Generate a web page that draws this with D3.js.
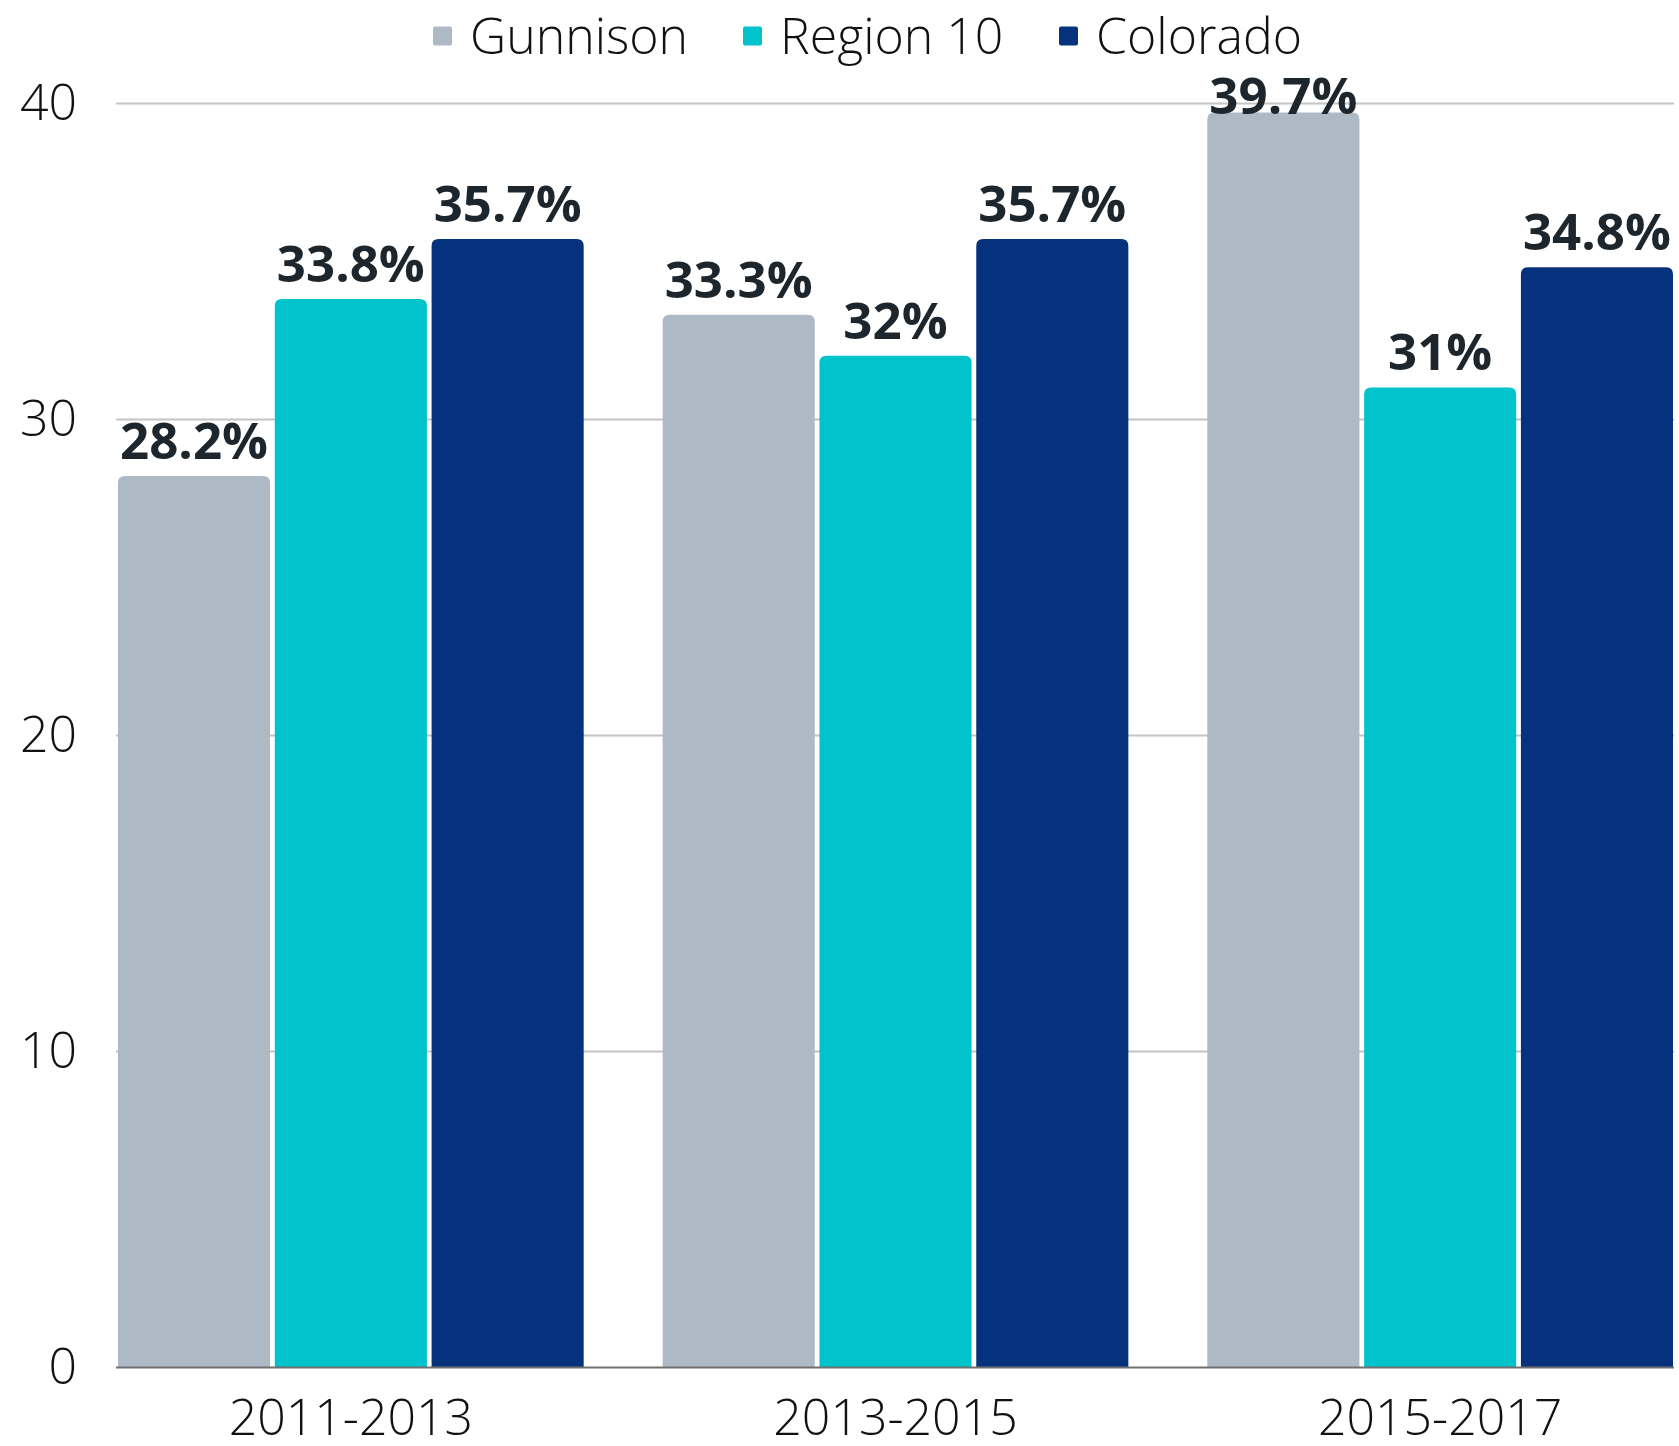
<!DOCTYPE html>
<html>
<head>
<meta charset="utf-8">
<script src="https://cdn.jsdelivr.net/npm/d3@7"></script>
<style>
    body { margin: 0; background: #fff; }
    text { font-family: "Open Sans", sans-serif; }
</style>
</head>
<body>
<svg id="chart"></svg>
<script>
// chart data
const periods = ["2011-2013", "2013-2015", "2015-2017"];
const seriesNames = ["Gunnison", "Region 10", "Colorado"];
const gunnison = [28.2, 33.3, 39.7];
const region10 = [33.8, 32, 31];
const colorado = [35.7, 35.7, 34.8];
const yTicks = [0, 10, 20, 30, 40];

const colors = ["#adb9c4", "#00c3cb", "#06327d"];
const allValues = [gunnison, region10, colorado];

let width = 1679;
let height = 1446;
let svg = d3.select("#chart")
    .attr("width", width)
    .attr("height", height);

let x0 = d3.scaleBand()
    .domain(periods)
    .range([118, 1673])
    .paddingInner(0.145)
    .paddingOuter(0);

let x1 = d3.scaleBand()
    .domain(seriesNames)
    .range([0, x0.bandwidth()])
    .paddingInner(0.03)
    .paddingOuter(0);

let y = d3.scaleLinear()
    .domain([0, 40])
    .range([1367, 103]);

// gridlines + y labels
let yAxis = svg.append("g")
    .attr("transform", "translate(116,0)")
    .call(d3.axisLeft(y).tickValues(yTicks).tickSize(-1558).tickPadding(39));
yAxis.select(".domain").remove();
yAxis.selectAll(".tick line")
    .attr("stroke", "#c4c4c4")
    .attr("stroke-width", 2)
    .filter(d => d === 0).remove();
yAxis.selectAll(".tick text")
    .style("font-size", "50px")
    .style("font-weight", 300)
    .attr("fill", "#111");

// rounded-top bar path
function barPath(x, yTop, w, yBase, r) {
    r = Math.min(r, w / 2, yBase - yTop);
    return "M" + x + "," + yBase +
        "V" + (yTop + r) +
        "Q" + x + "," + yTop + " " + (x + r) + "," + yTop +
        "H" + (x + w - r) +
        "Q" + (x + w) + "," + yTop + " " + (x + w) + "," + (yTop + r) +
        "V" + yBase + "Z";
}

let rows = [];
periods.forEach((p, i) => {
    seriesNames.forEach((s, j) => {
        rows.push({ period: p, series: s, value: allValues[j][i], color: colors[j] });
    });
});

let groups = svg.selectAll("g.bar").data(rows).enter().append("g").attr("class", "bar");

groups.append("path")
    .attr("d", d => barPath(x0(d.period) + x1(d.series), y(d.value), x1.bandwidth(), y(0), 7))
    .attr("fill", d => d.color);

// value labels, kept inside the plot at the top
groups.append("text")
    .text(d => d.value + "%")
    .attr("x", d => x0(d.period) + x1(d.series) + x1.bandwidth() / 2)
    .attr("y", d => Math.max(y(d.value) - 17, 114))
    .attr("text-anchor", "middle")
    .style("font-size", "51px")
    .style("font-weight", 700)
    .attr("fill", "#1c262c");

// baseline
svg.append("line")
    .attr("x1", 116).attr("x2", 1674)
    .attr("y1", y(0) + 0.5).attr("y2", y(0) + 0.5)
    .attr("stroke", "#707070")
    .attr("stroke-width", 2);

// category labels
let xAxis = svg.append("g")
    .attr("transform", "translate(0," + y(0) + ")")
    .call(d3.axisBottom(x0).tickSize(0).tickPadding(32));
xAxis.select(".domain").remove();
xAxis.selectAll(".tick text")
    .style("font-size", "50px")
    .style("font-weight", 300)
    .attr("fill", "#111");

// legend
const legendX = [433, 743, 1059];
let legend = svg.selectAll("g.legend").data(seriesNames).enter().append("g")
    .attr("class", "legend")
    .attr("transform", (d, i) => "translate(" + legendX[i] + ",36)");
legend.append("rect")
    .attr("x", 0).attr("y", -9.5)
    .attr("width", 19).attr("height", 19)
    .attr("rx", 2)
    .attr("fill", (d, i) => colors[i]);
legend.append("text")
    .text(d => d)
    .attr("x", 37)
    .attr("dy", "0.35em")
    .style("font-size", "50px")
    .style("font-weight", 300)
    .attr("fill", "#111");
</script>
</body>
</html>
